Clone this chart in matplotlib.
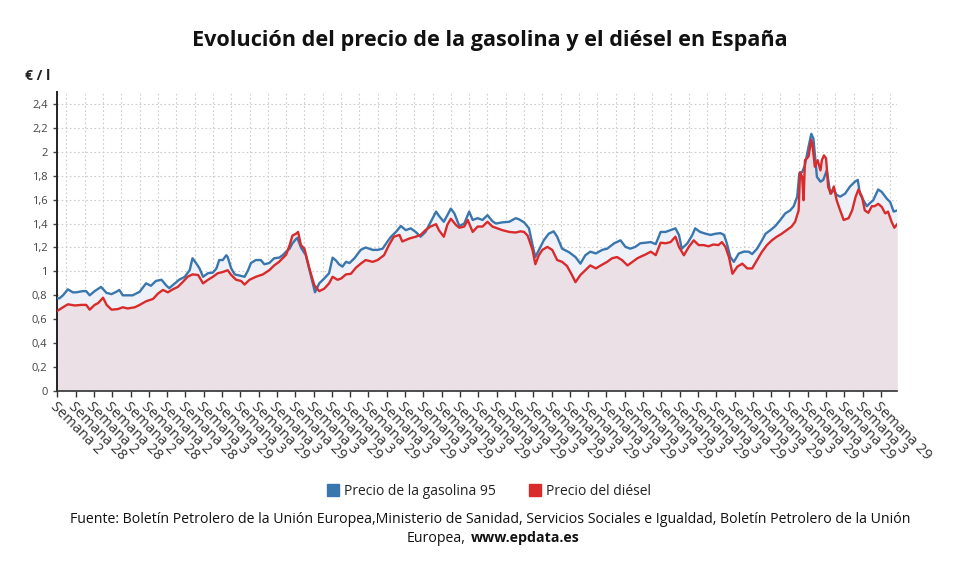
import matplotlib.pyplot as plt
from matplotlib.lines import Line2D
import numpy as np

plt.rcParams['font.family'] = ['Open Sans', 'DejaVu Sans']

# semanas (indice semanal desde la primera semana) y precios en euros/litro
semanas_gasolina = [0, 3, 8, 15, 22, 27, 36, 41, 46, 53, 62, 70, 77, 84, 88, 93, 107, 117, 126, 133,
                    140, 148, 155, 159, 166, 173, 181, 188, 192, 197, 202, 207, 214, 221, 226, 230, 235, 240, 242, 247,
                    252, 259, 266, 271, 275, 282, 289, 294, 301, 308, 315, 320, 325, 330, 334, 339, 341, 346, 353, 360,
                    366, 372, 379, 386, 391, 396, 400, 405, 410, 415, 422, 431, 438, 448, 455, 462, 469, 474, 481, 488,
                    495, 502, 509, 516, 523, 530, 538, 542, 549, 554, 559, 564, 571, 578, 585, 590, 597, 604, 611, 618,
                    623, 632, 642, 651, 656, 663, 670, 675, 679, 685, 691, 698, 705, 710, 717, 727, 736, 743, 750, 757,
                    765, 774, 781, 791, 800, 807, 814, 821, 828, 835, 843, 850, 857, 864, 871, 878, 883, 887, 895, 902,
                    906, 913, 921, 928, 935, 942, 947, 951, 956, 961, 968, 975, 982, 987, 994, 1001, 1006, 1013, 1020, 1027,
                    1034, 1041, 1046, 1051, 1054, 1058, 1062, 1067, 1071, 1074, 1079, 1084, 1088, 1093, 1098, 1103, 1107, 1112, 1119, 1126,
                    1133, 1137, 1140, 1145, 1150, 1154, 1159, 1166, 1171, 1178, 1183, 1188, 1193]
precio_gasolina = [0.775, 0.775, 0.80, 0.85, 0.825, 0.825, 0.835, 0.835, 0.80, 0.835, 0.87, 0.82, 0.81, 0.83, 0.845, 0.80, 0.80, 0.83, 0.90, 0.88,
                   0.92, 0.93, 0.88, 0.86, 0.895, 0.93, 0.955, 1.01, 1.11, 1.07, 1.025, 0.955, 0.985, 0.99, 1.025, 1.095, 1.095, 1.135, 1.12, 1.025,
                   0.975, 0.965, 0.955, 1.01, 1.07, 1.095, 1.095, 1.06, 1.07, 1.11, 1.115, 1.135, 1.165, 1.19, 1.235, 1.27, 1.28, 1.20, 1.135, 0.97,
                   0.825, 0.90, 0.94, 0.985, 1.115, 1.09, 1.06, 1.04, 1.08, 1.07, 1.11, 1.18, 1.20, 1.18, 1.18, 1.19, 1.25, 1.29, 1.33, 1.38,
                   1.345, 1.36, 1.33, 1.29, 1.33, 1.41, 1.50, 1.465, 1.415, 1.47, 1.525, 1.485, 1.38, 1.40, 1.50, 1.43, 1.445, 1.43, 1.47, 1.42,
                   1.40, 1.41, 1.415, 1.445, 1.435, 1.41, 1.36, 1.22, 1.12, 1.19, 1.26, 1.315, 1.335, 1.29, 1.19, 1.16, 1.12, 1.065, 1.135, 1.165,
                   1.15, 1.18, 1.19, 1.235, 1.26, 1.205, 1.19, 1.205, 1.235, 1.24, 1.245, 1.228, 1.33, 1.33, 1.345, 1.36, 1.305, 1.19, 1.235, 1.305,
                   1.36, 1.33, 1.315, 1.305, 1.315, 1.32, 1.305, 1.235, 1.12, 1.08, 1.15, 1.165, 1.165, 1.145, 1.19, 1.26, 1.315, 1.345, 1.38, 1.43,
                   1.485, 1.51, 1.545, 1.625, 1.82, 1.83, 1.89, 2.04, 2.15, 2.11, 1.79, 1.75, 1.765, 1.845, 1.65, 1.68, 1.64, 1.625, 1.65, 1.71,
                   1.75, 1.765, 1.65, 1.595, 1.545, 1.57, 1.595, 1.685, 1.665, 1.61, 1.58, 1.50, 1.51]

semanas_diesel = [0, 8, 15, 25, 34, 41, 46, 53, 58, 65, 70, 77, 86, 93, 100, 110, 117, 126, 136, 143,
                  150, 157, 164, 171, 178, 185, 192, 200, 207, 214, 221, 228, 235, 242, 247, 254, 261, 266, 273, 282,
                  292, 301, 308, 315, 320, 325, 330, 334, 339, 342, 346, 351, 358, 365, 372, 379, 386, 391, 398, 403,
                  410, 417, 424, 431, 438, 448, 455, 464, 471, 478, 486, 490, 500, 509, 516, 523, 530, 538, 542, 549,
                  554, 559, 566, 571, 578, 583, 590, 597, 604, 611, 618, 625, 632, 642, 651, 658, 663, 668, 675, 679,
                  684, 689, 696, 703, 710, 717, 724, 731, 736, 743, 750, 757, 765, 772, 781, 788, 795, 802, 810, 817,
                  824, 831, 835, 843, 850, 857, 864, 871, 878, 883, 890, 897, 904, 911, 918, 925, 932, 939, 944, 949,
                  954, 959, 966, 973, 980, 987, 994, 1001, 1008, 1015, 1022, 1029, 1036, 1043, 1048, 1053, 1055, 1058, 1060, 1062,
                  1067, 1071, 1073, 1076, 1080, 1084, 1086, 1089, 1092, 1095, 1099, 1103, 1107, 1112, 1117, 1124, 1129, 1134, 1138, 1143,
                  1147, 1152, 1157, 1161, 1166, 1171, 1176, 1180, 1185, 1189, 1193]
precio_diesel = [0.67, 0.70, 0.725, 0.715, 0.72, 0.72, 0.68, 0.72, 0.735, 0.78, 0.72, 0.68, 0.685, 0.70, 0.69, 0.70, 0.72, 0.75, 0.77, 0.815,
                 0.845, 0.825, 0.85, 0.87, 0.91, 0.955, 0.975, 0.97, 0.90, 0.93, 0.955, 0.985, 0.995, 1.01, 0.97, 0.93, 0.92, 0.89, 0.93, 0.955,
                 0.975, 1.01, 1.05, 1.08, 1.11, 1.14, 1.22, 1.30, 1.315, 1.33, 1.22, 1.19, 1.025, 0.885, 0.835, 0.855, 0.90, 0.955, 0.93, 0.94,
                 0.975, 0.98, 1.03, 1.065, 1.095, 1.08, 1.095, 1.135, 1.22, 1.29, 1.305, 1.25, 1.275, 1.29, 1.305, 1.345, 1.375, 1.395, 1.345, 1.29,
                 1.39, 1.44, 1.39, 1.365, 1.375, 1.43, 1.33, 1.375, 1.375, 1.415, 1.375, 1.36, 1.345, 1.33, 1.325, 1.335, 1.33, 1.30, 1.18, 1.06,
                 1.135, 1.18, 1.205, 1.18, 1.095, 1.08, 1.045, 0.97, 0.91, 0.97, 1.01, 1.05, 1.025, 1.05, 1.08, 1.11, 1.12, 1.095, 1.05, 1.08,
                 1.11, 1.13, 1.14, 1.165, 1.136, 1.24, 1.235, 1.245, 1.29, 1.205, 1.135, 1.205, 1.26, 1.22, 1.22, 1.21, 1.225, 1.22, 1.245, 1.205,
                 1.12, 0.98, 1.04, 1.065, 1.025, 1.025, 1.095, 1.165, 1.22, 1.26, 1.29, 1.315, 1.345, 1.375, 1.415, 1.51, 1.83, 1.79, 1.595, 1.93,
                 1.96, 2.10, 2.04, 1.875, 1.93, 1.845, 1.93, 1.97, 1.945, 1.705, 1.65, 1.71, 1.595, 1.51, 1.43, 1.445, 1.51, 1.625, 1.685, 1.625,
                 1.51, 1.49, 1.545, 1.545, 1.565, 1.54, 1.485, 1.50, 1.415, 1.365, 1.395]

# etiquetas del eje x (cada 26 semanas)
etiquetas_x = ['Semana 2', 'Semana 28'] * 4 + ['Semana 3', 'Semana 29'] * 19
posiciones_x = np.arange(len(etiquetas_x)) * 26

azul = '#3a76ae'
rojo = '#d92b2b'

fig = plt.figure(figsize=(9.8, 5.75), dpi=100)
ax = fig.add_axes([0.0585, 0.32, 0.857, 0.52])

ax.fill_between(semanas_gasolina, 0, precio_gasolina, color='#eef2f8', lw=0, zorder=1)
ax.fill_between(semanas_diesel, 0, precio_diesel, color='#ebe0e6', lw=0, zorder=1.5)
ax.plot(semanas_gasolina, precio_gasolina, color=azul, lw=1.7, zorder=3)
ax.plot(semanas_diesel, precio_diesel, color=rojo, lw=1.7, zorder=3)

ax.set_xlim(0, 1193)
ax.set_ylim(0, 2.5)
ax.set_yticks(np.arange(0, 2.41, 0.2))
ax.set_yticklabels(['0'] + [('%.1f' % v).replace('.', ',').replace(',0', '') for v in np.arange(0.2, 2.41, 0.2)])
ax.set_xticks(posiciones_x)
ax.set_xticklabels(etiquetas_x, rotation=-45, ha='left', va='top', rotation_mode='anchor', fontsize=10.5, color='#333333')
ax.set_xticks(posiciones_x + 13, minor=True)

ax.grid(axis='y', which='major', color='#cccccc', linestyle=(0, (1.5, 2.2)), lw=0.8, zorder=0)
ax.grid(axis='x', which='minor', color='#cccccc', linestyle=(0, (1.5, 2.2)), lw=0.8, zorder=0)
ax.set_axisbelow(True)

for lado in ['top', 'right']:
    ax.spines[lado].set_visible(False)
ax.spines['left'].set_color('#222222')
ax.spines['left'].set_linewidth(1.4)
ax.spines['bottom'].set_color('#333333')
ax.spines['bottom'].set_linestyle((0, (1.5, 1)))
ax.spines['bottom'].set_linewidth(1.2)
ax.tick_params(axis='y', labelsize=8, colors='#444444', length=3, width=1, pad=4)
ax.tick_params(axis='x', which='major', length=4, width=1, color='#333333', pad=2)
ax.tick_params(axis='x', which='minor', length=0)

fig.text(0.5, 0.93, 'Evolución del precio de la gasolina y el diésel en España',
         ha='center', va='center', fontsize=15.6, fontweight='bold', color='#111111')
fig.text(0.026, 0.868, '€ / l', ha='left', va='center', fontsize=10, fontweight='bold', color='#222222')

marcas = [Line2D([], [], marker='s', linestyle='', markersize=8, color=azul),
          Line2D([], [], marker='s', linestyle='', markersize=8, color=rojo)]
fig.legend(marcas, ['Precio de la gasolina 95', 'Precio del diésel'], loc='center',
           bbox_to_anchor=(0.499, 0.146), ncol=2, frameon=False, fontsize=10,
           handlelength=0.8, handletextpad=0.4, columnspacing=2.4, labelcolor='#222222')

fig.text(0.5, 0.096, 'Fuente: Boletín Petrolero de la Unión Europea,Ministerio de Sanidad, Servicios Sociales e Igualdad, Boletín Petrolero de la Unión',
         ha='center', va='center', fontsize=10.2, color='#111111')
fig.text(0.4755, 0.064, 'Europea,', ha='right', va='center', fontsize=10.2, color='#111111')
fig.text(0.4806, 0.064, 'www.epdata.es', ha='left', va='center', fontsize=10.2, fontweight='bold', color='#111111')

fig.savefig('out.png', dpi=100)
